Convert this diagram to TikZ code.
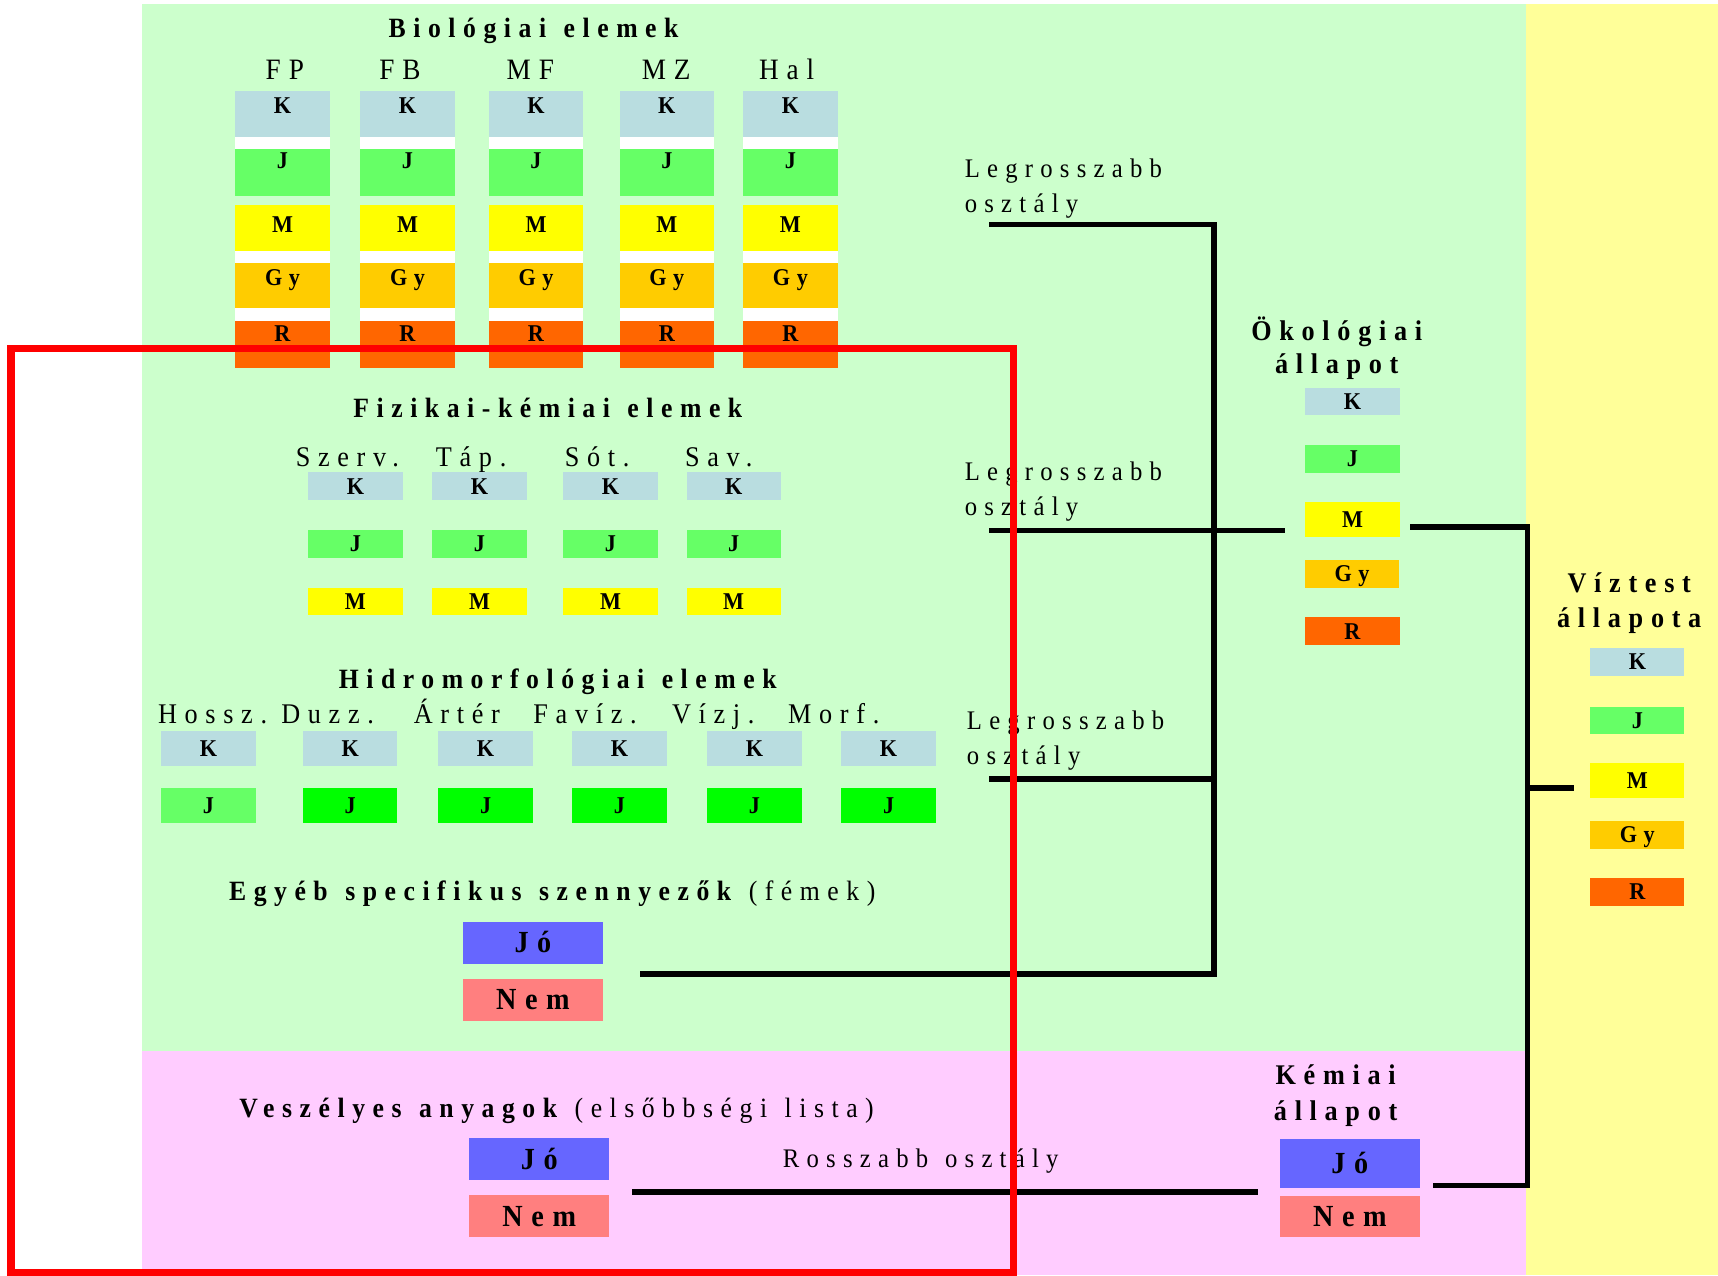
\documentclass[tikz,border=0pt]{standalone}
\usepackage{fontspec}
\setmainfont{Liberation Serif}[LetterSpace=27, FakeStretch=0.92, WordSpace=1.25]
\usetikzlibrary{positioning,calc}
\definecolor{bggreen}{HTML}{CCFFCC}
\definecolor{bgpink}{HTML}{FFCCFF}
\definecolor{bgyellow}{HTML}{FFFF99}
\definecolor{kcol}{HTML}{B9DDE0}
\definecolor{jcol}{HTML}{66FF66}
\definecolor{jbright}{HTML}{00FF00}
\definecolor{mcol}{HTML}{FFFF00}
\definecolor{gycol}{HTML}{FFCC00}
\definecolor{rcol}{HTML}{FF6600}
\definecolor{jocol}{HTML}{6666FF}
\definecolor{nemcol}{HTML}{FF7F7F}

\begin{document}
\begin{tikzpicture}[x=1pt, y=-1pt,
    link/.style={draw=black, line width=5pt},
    frame/.style={draw=red, line width=6.5pt},
    title/.style={font=\bfseries\fontsize{25.5}{31}\selectfont, anchor=base},
    head/.style={font=\fontsize{26}{28}\selectfont, anchor=base},
    note/.style={font=\fontsize{24.5}{32}\selectfont, align=left, anchor=base west},
    cell/.style={fill=#1, inner sep=0pt, minimum width=86pt, font=\bfseries\fontsize{22}{22}\selectfont},
    bcell/.style={cell=#1, minimum height=25pt, text height=14.5pt, text depth=0pt},
    yesno/.style={fill=#1, inner sep=0pt, minimum width=128pt, minimum height=38pt, text height=18pt, text depth=0pt,
      font=\bfseries\fontsize{28}{28}\selectfont\addfontfeature{LetterSpace=28}},
  ]
  \useasboundingbox (0,0) rectangle (1568,1164);
  \fill[bggreen] (130,4) rectangle (1393,959);
  \fill[bgpink] (130,959) rectangle (1393,1164);
  \fill[bgyellow] (1393,4) rectangle (1568,1164);

  % biological elements
  \node[title] (bio) at (487,34) {Biológiai elemek};
  \foreach \c/\x/\hx/\lbl in {fp/257.8/260/FP, fb/371.9/365/FB, mf/489.2/484/MF, mz/608.6/608/MZ, hal/721.4/718/Hal} {
    \node[head, font=\fontsize{27}{28}\selectfont] (\c) at (\hx,73) {\lbl};
    \fill[white] (\x-43,83.2) rectangle (\x+43,136.3);
    \fill[white] (\x-43,187.1) rectangle (\x+43,292.7);
    \foreach \r/\base/\th/\td/\col in {K/103.4/20.2/21.4/kcol, J/154.2/17.9/24.4/jcol, M/212/24.9/17/mcol,
        Gy/260.7/20.4/20.8/gycol, R/311.9/19.2/23.7/rcol}
      \node[cell=\col, anchor=base, text height=\th pt, text depth=\td pt] (\c-\r) at (\x,\base) {\r};
  }

  % physico-chemical elements
  \node[title] (fk) at (500,381) {Fizikai-kémiai elemek};
  \foreach \c/\x/\hx/\lbl in {szerv/324.4/317/Szerv., tap/437.6/430/Táp., sot/557.2/545/Sót., sav/669.6/656/Sav.} {
    \node[head] (\c) at (\hx,426) {\lbl};
    \node[bcell=kcol] (\c-K) at (\x,443.7) {K};
    \node[bcell=jcol] (\c-J) at (\x,496.5) {J};
    \node[bcell=mcol] (\c-M) at (\x,548.7) {M};
  }

  % hydromorphological elements
  \node[title] (hm) at (509,628) {Hidromorfológiai elemek};
  \foreach \c/\x/\hx/\lbl/\col in {hossz/190.3/194/Hossz./jcol, duzz/319.6/299/Duzz./jbright, arter/443.2/417/Ártér/jbright,
      faviz/565.4/534/Favíz./jbright, vizj/688.6/651/Vízj./jbright, morf/811/761/Morf./jbright} {
    \node[head] (\c) at (\hx,660) {\lbl};
    \node[bcell=kcol, minimum height=31.6pt] (\c-K) at (\x,683) {K};
    \node[bcell=\col, minimum height=31.9pt] (\c-J) at (\x,735.5) {J};
  }

  \node[title] (fem) at (504,822) {Egyéb specifikus szennyezők \mdseries(fémek)};
  \node[yesno=jocol] (fem-jo) at (486.4,860.7) {Jó};
  \node[yesno=nemcol] (fem-nem) at (486.4,912.7) {Nem};

  \node[title] (ves) at (508,1020) {Veszélyes anyagok \mdseries(elsőbbségi lista)};
  \node[yesno=jocol] (ves-jo) at (492.2,1058) {Jó};
  \node[yesno=nemcol] (ves-nem) at (492.2,1110) {Nem};
  \node[note] (rossz) at (711,1066) {Rosszabb osztály};

  % two-line labels sit on their last baseline
  \node[note] (leg-bio) at (877,194.4) {Legrosszabb\\osztály};
  \node[note] (leg-fk) at (877,470.4) {Legrosszabb\\osztály};
  \node[note] (leg-hm) at (879,697.4) {Legrosszabb\\osztály};

  % ecological status
  \node[title, align=center, font=\bfseries\fontsize{26}{30}\selectfont] (eco) at (1220,341) {Ökológiai\\állapot};
  \node[bcell=kcol] (eco-K) at (1234.4,366.7) {K};
  \node[bcell=jcol] (eco-J) at (1234.4,418.9) {J};
  \node[bcell=mcol, minimum height=32pt] (eco-M) at (1234.4,474) {M};
  \node[bcell=gycol, minimum width=85pt] (eco-Gy) at (1233.9,523.7) {Gy};
  \node[bcell=rcol] (eco-R) at (1234.4,576) {R};

  % chemical status
  \node[title, align=center, font=\bfseries\fontsize{26}{33}\selectfont] (kem) at (1219,1022.6) {Kémiai\\állapot};
  \node[yesno=jocol, minimum height=44.8pt] (kem-jo) at (1232,1061.6) {Jó};
  \node[yesno=nemcol] (kem-nem) at (1232,1110.4) {Nem};

  % water body status
  \node[title, align=center, font=\bfseries\fontsize{26}{32}\selectfont] (vt) at (1487,573) {Víztest\\állapota};
  \node[bcell=kcol] (vt-K) at (1494.4,604.2) {K};
  \node[bcell=jcol] (vt-J) at (1494.4,657.5) {J};
  \node[bcell=mcol, minimum height=32pt] (vt-M) at (1494.4,712.3) {M};
  \node[bcell=gycol] (vt-Gy) at (1494.4,762) {Gy};
  \node[bcell=rcol] (vt-R) at (1494.4,814.1) {R};

  % connectors
  \coordinate (bus) at (1108,889);
  \coordinate (rbus) at (1394,1082);
  \coordinate (bio-end) at (903,205);
  \coordinate (fk-end) at (903,484);
  \coordinate (hm-end) at (903,711);
  \coordinate (fem-end) at (584,889);
  \coordinate (ves-end) at (577,1088);
  \coordinate (eco-in) at (1173,484);
  \coordinate (eco-out) at (1287,481);
  \coordinate (kem-in) at (1148,1088);
  \coordinate (kem-out) at (1308,1082);
  \coordinate (vt-in) at (1437,719);
  \draw[link] (bio-end) -| (bus) -- (fem-end);
  \draw[link] (hm-end) -- (hm-end -| bus);
  \draw[link] (fk-end) -- (eco-in);
  \draw[link] (eco-out) -| (rbus) -- (kem-out);
  \draw[link] (vt-in -| rbus) -- (vt-in);
  \draw[link] (ves-end) -- (kem-in);

  \draw[frame] (10,318) rectangle (925,1161);
\end{tikzpicture}
\end{document}
